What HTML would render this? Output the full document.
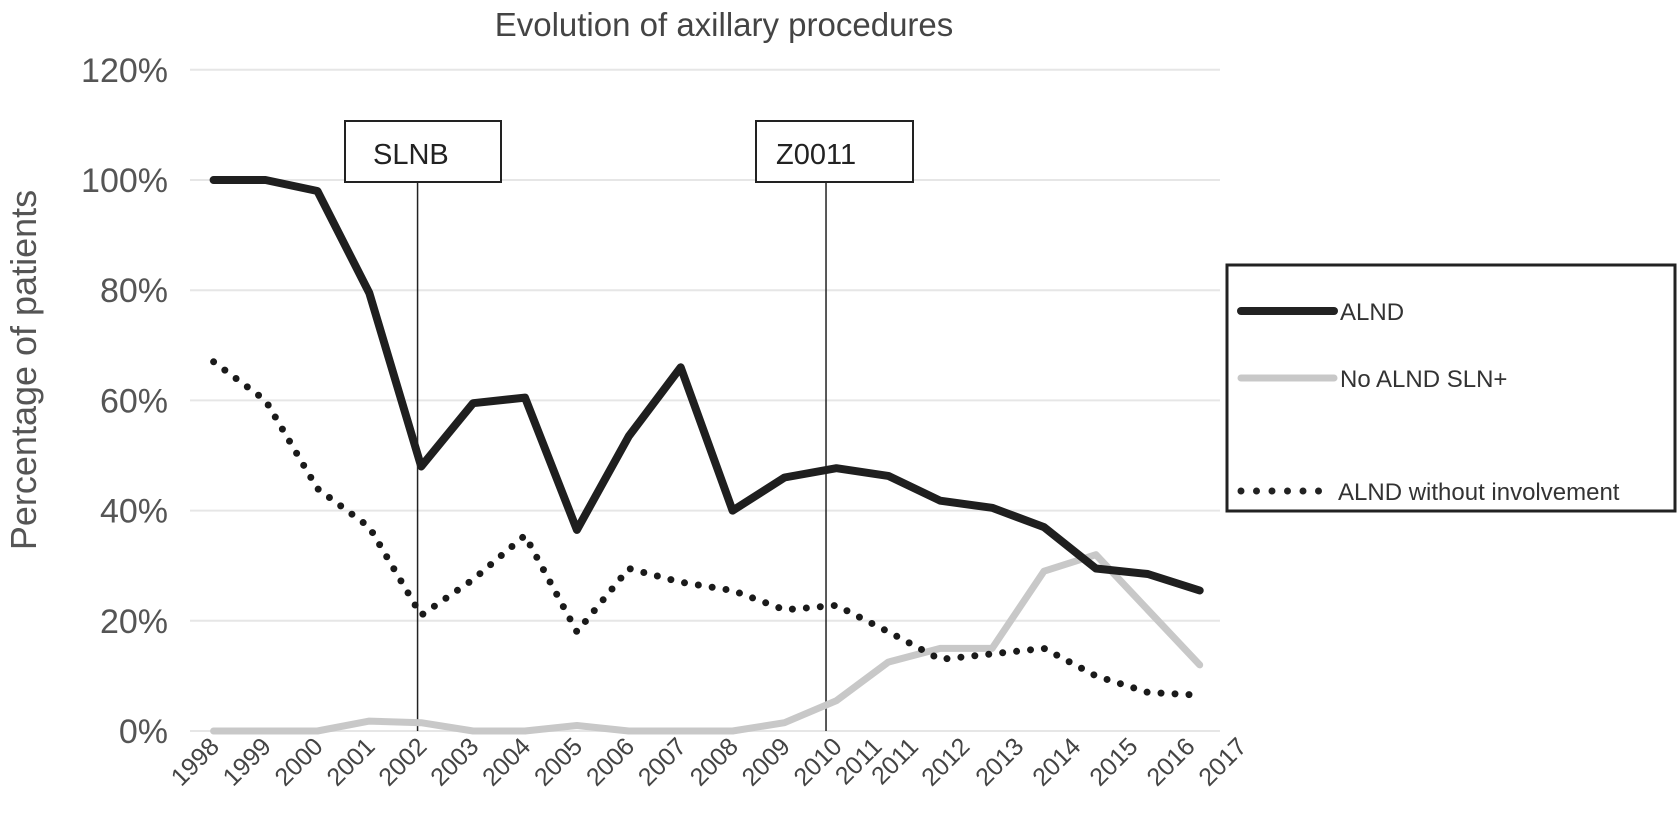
<!DOCTYPE html>
<html><head><meta charset="utf-8"><style>
html,body{margin:0;padding:0;background:#fff;}
svg{display:block;font-family:"Liberation Sans",sans-serif;}
</style></head><body>
<svg id="chart" width="1680" height="814" viewBox="0 0 1680 814" xmlns="http://www.w3.org/2000/svg">
<text x="724" y="36" font-size="33" fill="#444" text-anchor="middle">Evolution of axillary procedures</text>
<text transform="translate(36,370) rotate(-90)" font-size="36" fill="#555" text-anchor="middle">Percentage of patients</text>
<g id="grid"></g><g id="yticks"></g><g id="xticks"></g><g id="markers"></g><g id="series"></g>
<g>
<rect x="1227" y="265" width="448" height="246" fill="#fff" stroke="#222" stroke-width="3"/>
<line x1="1241" y1="311" x2="1334" y2="311" stroke="#222" stroke-width="8" stroke-linecap="round"/>
<text x="1340" y="320" font-size="24" fill="#333">ALND</text>
<line x1="1241" y1="378" x2="1334" y2="378" stroke="#c8c8c8" stroke-width="7" stroke-linecap="round"/>
<text x="1340" y="387" font-size="24" fill="#333">No ALND SLN+</text>
<line x1="1241" y1="491" x2="1334" y2="491" stroke="#222" stroke-width="7" stroke-linecap="round" stroke-dasharray="0 15.5"/>
<text x="1338" y="500" font-size="24" fill="#333">ALND without involvement</text>
</g>
</svg>
<script>
const categories = ["1998","1999","2000","2001","2002","2003","2004","2005","2006","2007","2008","2009","2010","2011","2012","2013","2014","2015","2016","2017"];
const alnd = [100,100,98,79.5,48,59.5,60.5,36.5,53.5,66,40,46,47.7,46.3,41.8,40.5,37,29.5,28.5,25.5];
const noAlndSln = [0,0,0,1.8,1.5,0,0,1,0,0,0,1.5,5.5,12.5,15,15,29,32,22,12];
const withoutInvolvement = [67,60,44,37,21,27.5,35.5,18,29.5,27,25.5,22,22.8,18,13,14,15,10,7,6.5];
const yTicks = [0,20,40,60,80,100,120];
const xTickLabels = ["1998","1999","2000","2001","2002","2003","2004","2005","2006","2007","2008","2009","2010","2011","2011","2012","2013","2014","2015","2016","2017"];
const xTickIndex = [0,1,2,3,4,5,6,7,8,9,10,11,12,12.77,13.47,14.46,15.5,16.6,17.7,18.8,19.8];
const markerLabels = ["SLNB","Z0011"];
const markerIndex = [3.93,11.8];

const NS="http://www.w3.org/2000/svg";
const x0=213.6, step=51.9, yZero=731, yPer=5.51, plotL=190, plotR=1220;
function xs(i){return x0+i*step;}
function ys(v){return yZero-v*yPer;}
function mk(tag,attrs,parent){const e=document.createElementNS(NS,tag);for(const k in attrs)e.setAttribute(k,attrs[k]);parent.appendChild(e);return e;}

const grid=document.getElementById('grid'), yt=document.getElementById('yticks');
yTicks.forEach(v=>{
  const l=mk('line',{x1:plotL,x2:plotR,y1:ys(v),y2:ys(v),stroke:'#e6e6e6','stroke-width':2},grid);
  
  
  const t=mk('text',{x:168,y:ys(v)+12,'font-size':34,fill:'#555','text-anchor':'end'},yt);
  t.textContent=v+'%';
  
  
});
const xt=document.getElementById('xticks');
xTickLabels.forEach((lab,k)=>{
  const x=xs(xTickIndex[k])+7, y=748;
  const t=mk('text',{x:x,y:y,'font-size':25,fill:'#444','text-anchor':'end',transform:`rotate(-45 ${x} ${y})`},xt);
  t.textContent=lab;
  
  
});
const mg=document.getElementById('markers');
const boxes=[[345,121,156,61],[756,121,157,61]];
markerLabels.forEach((lab,k)=>{
  const x=xs(markerIndex[k]);
  const l=mk('line',{x1:x,x2:x,y1:boxes[k][1]+boxes[k][3],y2:yZero,stroke:'#222','stroke-width':1.5},mg);
  
  
  const r=mk('rect',{x:boxes[k][0],y:boxes[k][1],width:boxes[k][2],height:boxes[k][3],fill:'#fff',stroke:'#222','stroke-width':2},mg);
  
  
  const t=mk('text',{x:k==0?boxes[k][0]+28:boxes[k][0]+20,y:boxes[k][1]+43,'font-size':29,fill:'#222'},mg);
  t.textContent=lab;
  
  
});
const sg=document.getElementById('series');
function pts(arr){return arr.map((v,i)=>xs(i).toFixed(1)+','+ys(v).toFixed(1)).join(' ');}
const s1=mk('polyline',{points:pts(noAlndSln),fill:'none',stroke:'#c8c8c8','stroke-width':7,'stroke-linejoin':'round','stroke-linecap':'round'},sg);


const s2=mk('polyline',{points:pts(withoutInvolvement),fill:'none',stroke:'#1a1a1a','stroke-width':7,'stroke-linejoin':'round','stroke-linecap':'round','stroke-dasharray':'0 14'},sg);


const s3=mk('polyline',{points:pts(alnd),fill:'none',stroke:'#1f1f1f','stroke-width':8,'stroke-linejoin':'round','stroke-linecap':'round'},sg);


</script>
</body></html>
